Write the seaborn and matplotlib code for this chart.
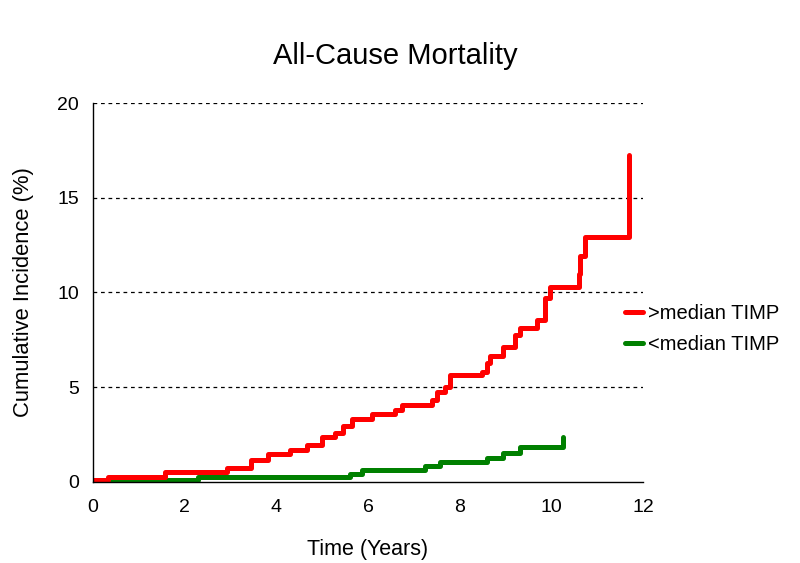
import matplotlib
matplotlib.use("Agg")
import matplotlib.pyplot as plt
import seaborn as sns
import pandas as pd
from matplotlib.lines import Line2D

# Data
red_time = [0, 0.33, 1.57, 2.92, 3.46, 3.83, 4.30, 4.66, 4.99, 5.28, 5.46, 5.66, 6.08, 6.59, 6.74,
            7.39, 7.50, 7.68, 7.79, 8.48, 8.59, 8.66, 8.95, 9.21, 9.32, 9.68, 9.86, 9.97, 10.59,
            10.63, 10.74, 11.68]
red_inc = [0.08, 0.28, 0.51, 0.72, 1.16, 1.48, 1.69, 1.95, 2.36, 2.60, 2.95, 3.31, 3.57, 3.80, 4.06,
           4.33, 4.77, 5.03, 5.65, 5.82, 6.26, 6.65, 7.14, 7.76, 8.11, 8.55, 9.69, 10.31, 11.00,
           11.90, 12.94, 17.26]
green_time = [0, 0.37, 2.29, 5.60, 5.86, 7.24, 7.57, 8.59, 8.95, 9.32, 10.25]
green_inc = [0.0, 0.12, 0.26, 0.42, 0.63, 0.86, 1.07, 1.25, 1.51, 1.83, 2.37]
series_names = [">median TIMP", "<median TIMP"]
x_ticks = [0, 2, 4, 6, 8, 10, 12]
y_ticks = [0, 5, 10, 15, 20]

df = pd.concat([
    pd.DataFrame({"time": green_time, "inc": green_inc, "group": series_names[1]}),
    pd.DataFrame({"time": red_time, "inc": red_inc, "group": series_names[0]}),
], ignore_index=True)

sns.set_style("white")
plt.rcParams["font.family"] = ["Liberation Sans", "DejaVu Sans"]
plt.rcParams["text.color"] = "black"
plt.rcParams["axes.labelcolor"] = "black"
plt.rcParams["xtick.color"] = "black"
plt.rcParams["ytick.color"] = "black"

fig = plt.figure(figsize=(8, 5.63), dpi=100)
ax = fig.add_axes([0.116, 0.144, 0.688, 0.673])

palette = {series_names[0]: "#ff0000", series_names[1]: "#008000"}
sns.lineplot(data=df, x="time", y="inc", hue="group", palette=palette,
             hue_order=[series_names[1], series_names[0]],
             estimator=None, sort=False, drawstyle="steps-post",
             linewidth=3.6, legend=False, ax=ax)

for yv in [5, 10, 15, 20]:
    ax.axhline(yv, color="black", linestyle=(0, (3, 3)), linewidth=0.9, zorder=0)

ax.set_xlim(0, 12)
ax.set_ylim(0, 20)
ax.set_xticks(x_ticks)
ax.set_yticks(y_ticks)
ax.tick_params(axis="both", direction="out", length=3, width=1, labelsize=14)
ax.tick_params(axis="x", pad=9.5)
ax.tick_params(axis="y", pad=7)
for s in ["top", "right"]:
    ax.spines[s].set_visible(False)
for s in ["left", "bottom"]:
    ax.spines[s].set_color("black")
    ax.spines[s].set_linewidth(1)

ax.set_xlabel("Time (Years)", fontsize=15.5, labelpad=16)
ax.set_ylabel("Cumulative Incidence (%)", fontsize=15.8, labelpad=17)
fig.suptitle("All-Cause Mortality", fontsize=21, x=0.494, y=0.926)

handles = [Line2D([0], [0], color="#ff0000", lw=3.6),
           Line2D([0], [0], color="#008000", lw=3.6)]
fig.legend(handles, series_names, loc="center left", bbox_to_anchor=(0.771, 0.416),
           frameon=False, fontsize=14.5, handlelength=0.9, handletextpad=0.26,
           labelspacing=0.62, borderpad=0.4, borderaxespad=0)

fig.savefig("out.png", dpi=100)
